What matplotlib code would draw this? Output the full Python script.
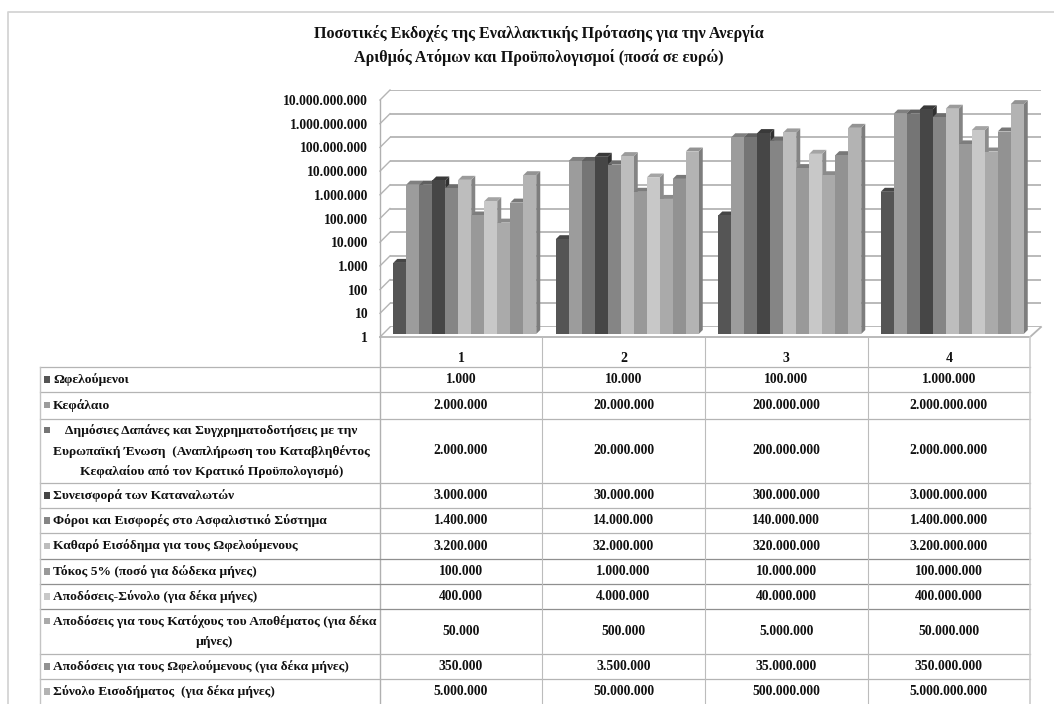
"""Log-scale pseudo-3D bar chart with a data table underneath (Greek labels)."""
import matplotlib
matplotlib.use("Agg")
import matplotlib.pyplot as plt
from matplotlib.patches import Polygon
from matplotlib.ticker import FuncFormatter, LogLocator
from matplotlib.transforms import IdentityTransform

W, H = 1054, 704
FONT = ["Liberation Serif", "DejaVu Serif"]

# ---- data ---- #
categories = ["1", "2", "3", "4"]

ofeloumenoi = [1000, 10000, 100000, 1000000]
kefalaio = [2000000, 20000000, 200000000, 2000000000]
dapanes = [2000000, 20000000, 200000000, 2000000000]
katanalotes = [3000000, 30000000, 300000000, 3000000000]
foroi = [1400000, 14000000, 140000000, 1400000000]
katharo = [3200000, 32000000, 320000000, 3200000000]
tokos = [100000, 1000000, 10000000, 100000000]
apodoseis = [400000, 4000000, 40000000, 400000000]
katoxoi = [50000, 500000, 5000000, 50000000]
apod_ofel = [350000, 3500000, 35000000, 350000000]
synolo = [5000000, 50000000, 500000000, 5000000000]

series = [ofeloumenoi, kefalaio, dapanes, katanalotes, foroi, katharo,
          tokos, apodoseis, katoxoi, apod_ofel, synolo]
colors = ["#555555", "#9c9c9c", "#757575", "#464646", "#858585", "#bdbdbd",
          "#999999", "#c8c8c8", "#aaaaaa", "#929292", "#b3b3b3"]
row_labels = [
    ["Ωφελούμενοι"],
    ["Κεφάλαιο"],
    ["Δημόσιες Δαπάνες και Συγχρηματοδοτήσεις με την",
     "Ευρωπαϊκή Ένωση  (Αναπλήρωση του Καταβληθέντος",
     "Κεφαλαίου από τον Κρατικό Προϋπολογισμό)"],
    ["Συνεισφορά των Καταναλωτών"],
    ["Φόροι και Εισφορές στο Ασφαλιστικό Σύστημα"],
    ["Καθαρό Εισόδημα για τους Ωφελούμενους"],
    ["Τόκος 5% (ποσό για δώδεκα μήνες)"],
    ["Αποδόσεις-Σύνολο (για δέκα μήνες)"],
    ["Αποδόσεις για τους Κατόχους του Αποθέματος (για δέκα", "μήνες)"],
    ["Αποδόσεις για τους Ωφελούμενους (για δέκα μήνες)"],
    ["Σύνολο Εισοδήματος  (για δέκα μήνες)"],
]
title_lines = ["Ποσοτικές Εκδοχές της Εναλλακτικής Πρότασης για την Ανεργία",
               "Αριθμός Ατόμων και Προϋπολογισμοί (ποσά σε ευρώ)"]

# table row boundaries and column boundaries, in image pixels
ROW_Y = [367, 392, 418.5, 483, 508, 533, 559, 584, 609, 654, 679, 704]
COL_X = [380, 542, 705, 867.5, 1030]
TABLE_LEFT = 40
# wrapped labels are centred, each a little off the cell middle
WRAP_CENTER = {2: 211.5, 8: 214.5}

fig = plt.figure(figsize=(W / 100, H / 100), dpi=100)


def log_plane(left, right, y_one, y_top, z):
    """Log axes placed by image pixels: y_one is where 1 falls, y_top 1e10."""
    ax = fig.add_axes([left / W, 1 - y_one / H, (right - left) / W,
                       (y_one - y_top) / H], zorder=z)
    ax.set_yscale("log")
    ax.set_ylim(1, 1e10)
    ax.set_xlim(-0.5, 3.5)
    ax.patch.set_alpha(0)
    ax.minorticks_off()
    ax.yaxis.set_major_locator(LogLocator(base=10, numticks=12))
    ax.set_xticks([])
    ax.tick_params(axis="y", length=0, which="both", labelleft=False)
    for s in ax.spines.values():
        s.set_visible(False)
    return ax


# ---- back wall with the gridlines ---- #
back = log_plane(390, 1041, 327, 90, 1)
back.grid(True, axis="y", color="#b4b4b4", lw=1.3)
back.set_axisbelow(True)

# ---- front plane carries the tick labels ---- #
front = log_plane(380, 1030, 337, 100, 2)
front.yaxis.set_major_formatter(
    FuncFormatter(lambda v, _: f"{int(round(v)):,}".replace(",", ".")))
front.tick_params(axis="y", length=0, pad=8.5, which="both", labelleft=True)
fig.canvas.draw()
for lab in front.get_yticklabels():
    lab.set_fontfamily(FONT)
    lab.set_fontweight("bold")
    lab.set_fontsize(9.8)
    lab.set_color("#111111")

# ---- bars ---- #
ax = log_plane(383.5, 1033.5, 334, 97, 3)
BAR_W = 0.08
DEPTH = 4.0
n = len(series)


def shade(hex_color, k):
    r, g, b = matplotlib.colors.to_rgb(hex_color)
    return (r * k, g * k, b * k)


fig.canvas.draw()
z = 3
for cat in range(len(categories)):
    for i, vals in enumerate(series):
        left = cat + (i - n / 2) * BAR_W
        ax.bar(left, vals[cat], BAR_W, bottom=1, align="edge",
               color=colors[i], lw=0, zorder=z + 1)
        (x0, y0), (x1, y1) = ax.transData.transform(
            [(left, 1), (left + BAR_W, vals[cat])])
        side = [(x1, y0), (x1 + DEPTH, y0 + DEPTH), (x1 + DEPTH, y1 + DEPTH), (x1, y1)]
        cap = [(x0, y1), (x1, y1), (x1 + DEPTH, y1 + DEPTH), (x0 + DEPTH, y1 + DEPTH)]
        ax.add_patch(Polygon(side, transform=IdentityTransform(), fc=shade(colors[i], 0.7),
                             lw=0, zorder=z, clip_on=False))
        ax.add_patch(Polygon(cap, transform=IdentityTransform(), fc=shade(colors[i], 0.82),
                             lw=0, zorder=z, clip_on=False))
        z += 2

# ---- overlay in image pixels: frame, floor, table, texts ---- #
pg = fig.add_axes([0, 0, 1, 1], zorder=5)
pg.set_xlim(0, W)
pg.set_ylim(H, 0)
pg.axis("off")
pg.patch.set_alpha(0)

FRAME = "#d4d4d4"
pg.plot([8, 8, W], [H, 12, 12], color=FRAME, lw=1.3)

for p in range(11):
    y_f = 337 - p * 23.7
    pg.plot([380, 390], [y_f, y_f - 10], color="#b4b4b4", lw=1)
pg.plot([380, 380], [100, H], color="#b0b0b0", lw=1)
pg.plot([380, 1030, 1041], [337, 337, 327], color="#b4b4b4", lw=1.3)

# table grid
for i, y in enumerate(ROW_Y[:-1]):
    line_col = "#8f8f8f" if 6 <= i <= 8 else "#b4b4b4"
    pg.plot([TABLE_LEFT, COL_X[-1]], [y, y], color=line_col, lw=0.9)
pg.plot([TABLE_LEFT, TABLE_LEFT], [ROW_Y[0], H], color="#c4c4c4", lw=1)
for x in COL_X[1:-1]:
    pg.plot([x, x], [337, H], color="#bcbcbc", lw=0.8)
pg.plot([COL_X[-1], COL_X[-1]], [337, H], color="#cccccc", lw=1.2)

txt = dict(family=FONT, weight="bold", color="#111111")

pg.text(538.5, 33, title_lines[0], ha="center", va="center", fontsize=11.65, **txt)
pg.text(538.5, 57, title_lines[1], ha="center", va="center", fontsize=11.65, **txt)

col_mid = [(COL_X[i] + COL_X[i + 1]) / 2 for i in range(4)]
for cat, label in enumerate(categories):
    pg.text(col_mid[cat], 358, label, ha="center", va="center", fontsize=10, **txt)

for r, lines in enumerate(row_labels):
    top, bot = ROW_Y[r], ROW_Y[r + 1]
    mid = (top + bot) / 2
    if len(lines) == 1:
        key_y = mid
        pg.text(53, mid, lines[0], ha="left", va="center", fontsize=9.7, **txt)
    else:
        pitch = 20.5
        key_y = mid - pitch * (len(lines) - 1) / 2
        for k, line in enumerate(lines):
            pg.text(WRAP_CENTER[r], key_y + k * pitch + 0.5, line, ha="center", va="center",
                    fontsize=9.7, **txt)
    pg.add_patch(plt.Rectangle((43.5, key_y - 3.5), 6.5, 6.5, fc=colors[r], lw=0))
    for cat in range(4):
        pg.text(col_mid[cat], mid, f"{series[r][cat]:,}".replace(",", "."),
                ha="center", va="center", fontsize=9.8, **txt)

fig.savefig("out.png", dpi=100, facecolor="white")
